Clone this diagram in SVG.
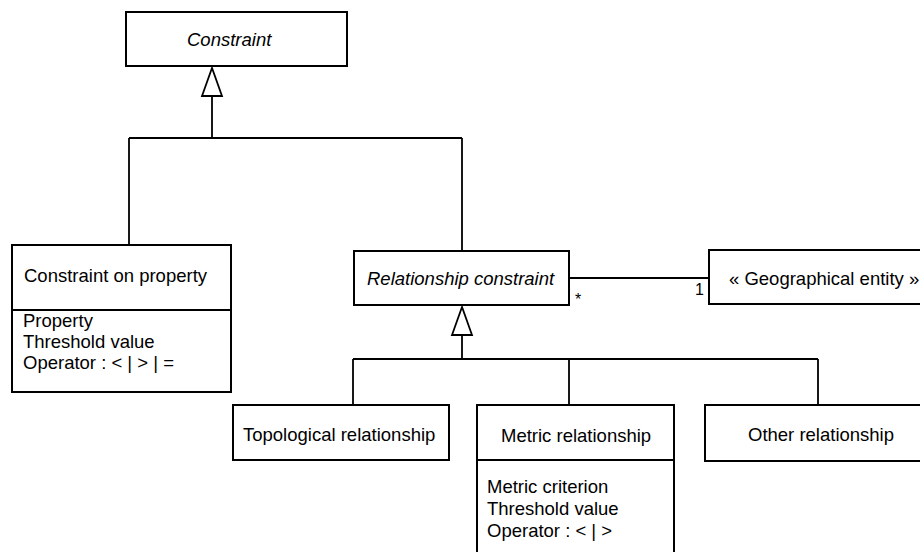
<svg xmlns="http://www.w3.org/2000/svg" width="920" height="552" viewBox="0 0 920 552">
  <style>
    .box { fill: #ffffff; stroke: #000000; stroke-width: 2; }
    .div { stroke: #000000; stroke-width: 2; }
    .line { fill: none; stroke: #000000; stroke-width: 1.8; }
    .tri { fill: #ffffff; stroke: #000000; stroke-width: 1.8; stroke-linejoin: miter; }
    text { font-family: "Liberation Sans", Arial, sans-serif; font-size: 18.5px; fill: #000000; }
    .abs { font-style: italic; }
    .mult { font-size: 16px; }
  </style>

  <!-- generalisation and association lines -->
  <g id="connectors">
    <path class="line" d="M212 96 V138 M129 138 H462 M129 138 V245 M462 138 V251"/>
    <polygon class="tri" points="212,68 202,96 222,96"/>
    <path class="line" d="M462 335 V359 M353 359 H818 M353 359 V405 M569 359 V405 M818 359 V405"/>
    <polygon class="tri" points="462,307 452,335 472,335"/>
    <path class="line" d="M569 278 H709"/>
    <text class="mult" x="575" y="305">*</text>
    <text class="mult" x="704" y="295" text-anchor="end">1</text>
  </g>

  <g id="constraint">
    <rect class="box" x="126" y="12" width="221" height="54"/>
    <text class="abs" x="187" y="46">Constraint</text>
  </g>

  <g id="constraint-on-property">
    <rect class="box" x="12" y="245" width="219" height="147"/>
    <line class="div" x1="12" y1="310" x2="231" y2="310"/>
    <text x="24" y="282">Constraint on property</text>
    <text x="23" y="327">Property</text>
    <text x="23" y="348">Threshold value</text>
    <text x="23" y="369">Operator : &lt; | &gt; | =</text>
  </g>

  <g id="relationship-constraint">
    <rect class="box" x="354" y="251" width="215" height="54"/>
    <text class="abs" x="367" y="285">Relationship constraint</text>
  </g>

  <g id="geographical-entity">
    <rect class="box" x="709" y="250" width="230" height="54"/>
    <text x="729" y="285">« Geographical entity »</text>
  </g>

  <g id="topological-relationship">
    <rect class="box" x="233" y="405" width="216" height="55"/>
    <text x="243" y="441">Topological relationship</text>
  </g>

  <g id="metric-relationship">
    <rect class="box" x="477" y="405" width="197" height="160"/>
    <line class="div" x1="477" y1="460" x2="674" y2="460"/>
    <text x="501" y="442">Metric relationship</text>
    <text x="487" y="493">Metric criterion</text>
    <text x="487" y="515">Threshold value</text>
    <text x="487" y="537">Operator : &lt; | &gt;</text>
  </g>

  <g id="other-relationship">
    <rect class="box" x="705" y="405" width="230" height="56"/>
    <text x="748" y="441">Other relationship</text>
  </g>
</svg>
